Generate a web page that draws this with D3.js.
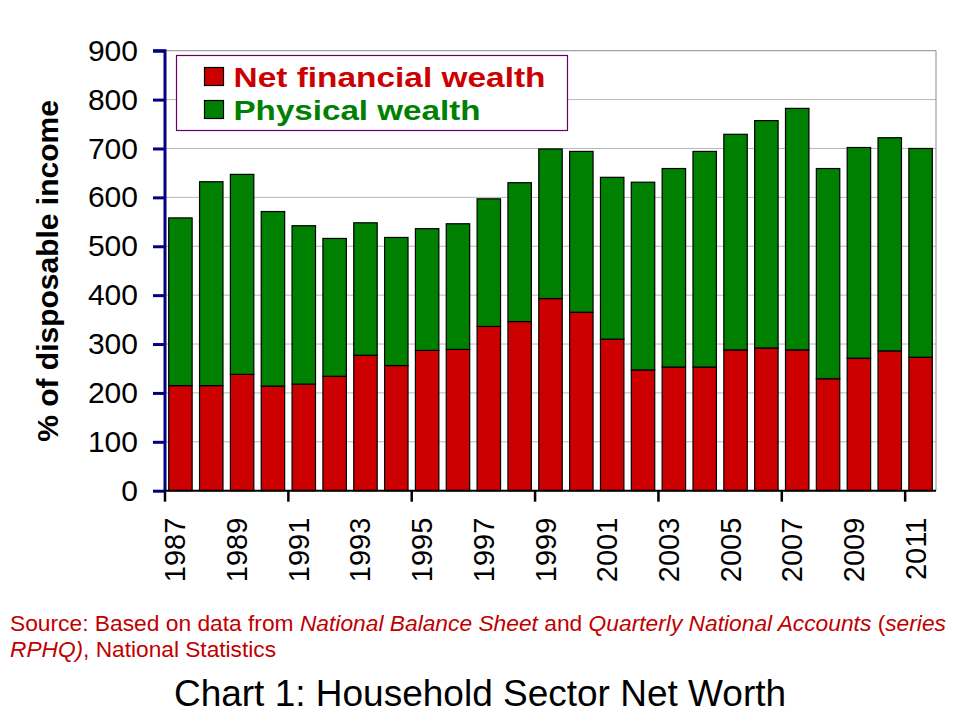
<!DOCTYPE html>
<html>
<head>
<meta charset="utf-8">
<script src="https://cdn.jsdelivr.net/npm/d3@7"></script>
<style>
  body { margin: 0; background: #fff; }
  svg { font-family: "Liberation Sans", Arial, sans-serif; }
</style>
</head>
<body>
<div id="chart"></div>
<script>
// values in % of disposable income
const years = d3.range(1987, 2012);
const netFinancial = [215, 215, 238, 214, 218, 234, 277, 256, 287, 289, 336, 346, 393,
                      365, 310, 247, 253, 253, 288, 292, 288, 229, 271, 286, 273];
const totalWealth  = [558, 632, 647, 571, 542, 516, 548, 518, 536, 546, 597, 630, 699,
                      694, 641, 631, 659, 694, 729, 757, 782, 659, 702, 722, 700];
const physical = totalWealth.map((t, i) => t - netFinancial[i]);
const yTicks = d3.range(0, 1000, 100);
const xLabelYears = years.filter(y => (y - 1987) % 2 === 0);
const xTickYears = years.filter(y => (y - 1987) % 4 === 0);

const series = [
  {key: 'net', name: 'Net financial wealth', color: '#cc0000', values: netFinancial, len: 312},
  {key: 'phys', name: 'Physical wealth', color: '#008000', values: physical, len: 247}
];

const W = 960, H = 720;
const plot = {left: 165, right: 936, top: 50.7, bottom: 490.7};

const svg = d3.select('#chart').append('svg')
  .attr('width', W).attr('height', H);

const x = d3.scaleBand()
  .domain(years)
  .range([plot.left, plot.right])
  .paddingInner(0.24)
  .paddingOuter(0.12);
const y = d3.scaleLinear()
  .domain([0, 900])
  .range([plot.bottom, plot.top]);

// <editor-fold desc="grid">
svg.append('g').attr('class', 'grid')
  .selectAll('line')
  .data(yTicks.filter(v => v > 0))
  .enter().append('line')
  .attr('x1', plot.left).attr('x2', plot.right)
  .attr('y1', d => y(d)).attr('y2', d => y(d))
  .attr('stroke', d => d === 900 ? '#8c8c8c' : '#b8b8b8')
  .attr('stroke-width', 1);
svg.append('line')
  .attr('x1', plot.right).attr('x2', plot.right)
  .attr('y1', y(900)).attr('y2', y(0))
  .attr('stroke', '#8c8c8c');
// </editor-fold>

// <editor-fold desc="bars">
const stacked = years.map((yr, i) => {
  let base = 0;
  return series.map(s => {
    const seg = {year: yr, y0: base, y1: base + s.values[i], color: s.color};
    base += s.values[i];
    return seg;
  });
});
svg.append('g').attr('class', 'bars')
  .selectAll('g')
  .data(stacked)
  .enter().append('g')
  .selectAll('rect')
  .data(d => d)
  .enter().append('rect')
  .attr('x', d => x(d.year))
  .attr('width', x.bandwidth())
  .attr('y', d => y(d.y1))
  .attr('height', d => y(d.y0) - y(d.y1))
  .attr('fill', d => d.color)
  .attr('stroke', '#000')
  .attr('stroke-width', 1.2);
// </editor-fold>

// <editor-fold desc="axes">
const yAxis = d3.axisLeft(y).tickValues(yTicks).tickSize(12).tickPadding(15);
const gy = svg.append('g')
  .attr('transform', `translate(${plot.left}, 0)`)
  .call(yAxis);
gy.select('.domain').attr('stroke', '#000080').attr('stroke-width', 3)
  .attr('d', `M-12,${y(900)}H0V${y(0)}`);
gy.selectAll('.tick line').attr('stroke', '#000080').attr('stroke-width', 3);
gy.selectAll('.tick text')
  .attr('font-size', 30).attr('fill', '#000')
  .attr('font-family', '"Liberation Sans", Arial, sans-serif');

const half = x.step() * x.paddingInner() / 2;
const gx = svg.append('g').attr('class', 'axis axis--x');
gx.append('line')
  .attr('x1', plot.left).attr('x2', plot.right)
  .attr('y1', y(0)).attr('y2', y(0))
  .attr('stroke', '#000').attr('stroke-width', 2);
gx.selectAll('line.tick')
  .data(xTickYears)
  .enter().append('line')
  .attr('class', 'tick')
  .attr('x1', d => x(d) - half).attr('x2', d => x(d) - half)
  .attr('y1', y(0)).attr('y2', y(0) + 11)
  .attr('stroke', '#000').attr('stroke-width', 2.5);
gx.selectAll('text')
  .data(xLabelYears)
  .enter().append('text')
  .attr('transform', d => `translate(${x(d) + x.bandwidth() / 2 + 5}, ${y(0) + 27}) rotate(-90)`)
  .attr('text-anchor', 'end')
  .attr('font-size', 29)
  .text(d => d);

svg.append('text')
  .attr('transform', `translate(58, 271) rotate(-90)`)
  .attr('text-anchor', 'middle')
  .attr('font-size', 30)
  .attr('font-weight', 'bold')
  .text('% of disposable income');
// </editor-fold>

// <editor-fold desc="legend">
const legend = svg.append('g').attr('transform', 'translate(176.5, 55.5)');
legend.append('rect')
  .attr('width', 391).attr('height', 75)
  .attr('fill', '#fff')
  .attr('stroke', '#660066').attr('stroke-width', 1.2);
const item = legend.selectAll('g.item')
  .data(series)
  .enter().append('g')
  .attr('class', 'item')
  .attr('transform', (d, i) => `translate(28, ${12 + i * 33})`);
item.append('rect')
  .attr('width', 19).attr('height', 18)
  .attr('fill', d => d.color)
  .attr('stroke', '#000').attr('stroke-width', 1.2);
item.append('text')
  .attr('x', 29).attr('y', 19)
  .attr('font-size', 27)
  .attr('font-weight', 'bold')
  .attr('textLength', d => d.len)
  .attr('lengthAdjust', 'spacingAndGlyphs')
  .attr('fill', d => d.color)
  .text(d => d.name);
// </editor-fold>

// <editor-fold desc="notes">
const src = svg.append('g').attr('fill', '#c00000').attr('font-size', 22);
const line1 = src.append('text').attr('x', 10).attr('y', 631)
  .attr('textLength', 936).attr('lengthAdjust', 'spacingAndGlyphs');
line1.append('tspan').text('Source: Based on data from ');
line1.append('tspan').attr('font-style', 'italic').text('National Balance Sheet');
line1.append('tspan').text(' and ');
line1.append('tspan').attr('font-style', 'italic').text('Quarterly National Accounts');
line1.append('tspan').text(' (');
line1.append('tspan').attr('font-style', 'italic').text('series');
const line2 = src.append('text').attr('x', 10).attr('y', 657)
  .attr('textLength', 266).attr('lengthAdjust', 'spacingAndGlyphs');
line2.append('tspan').attr('font-style', 'italic').text('RPHQ)');
line2.append('tspan').text(', National Statistics');

svg.append('text')
  .attr('x', 480).attr('y', 706)
  .attr('text-anchor', 'middle')
  .attr('font-size', 37)
  .attr('fill', '#000')
  .text('Chart 1: Household Sector Net Worth');
// </editor-fold>
</script>
</body>
</html>
